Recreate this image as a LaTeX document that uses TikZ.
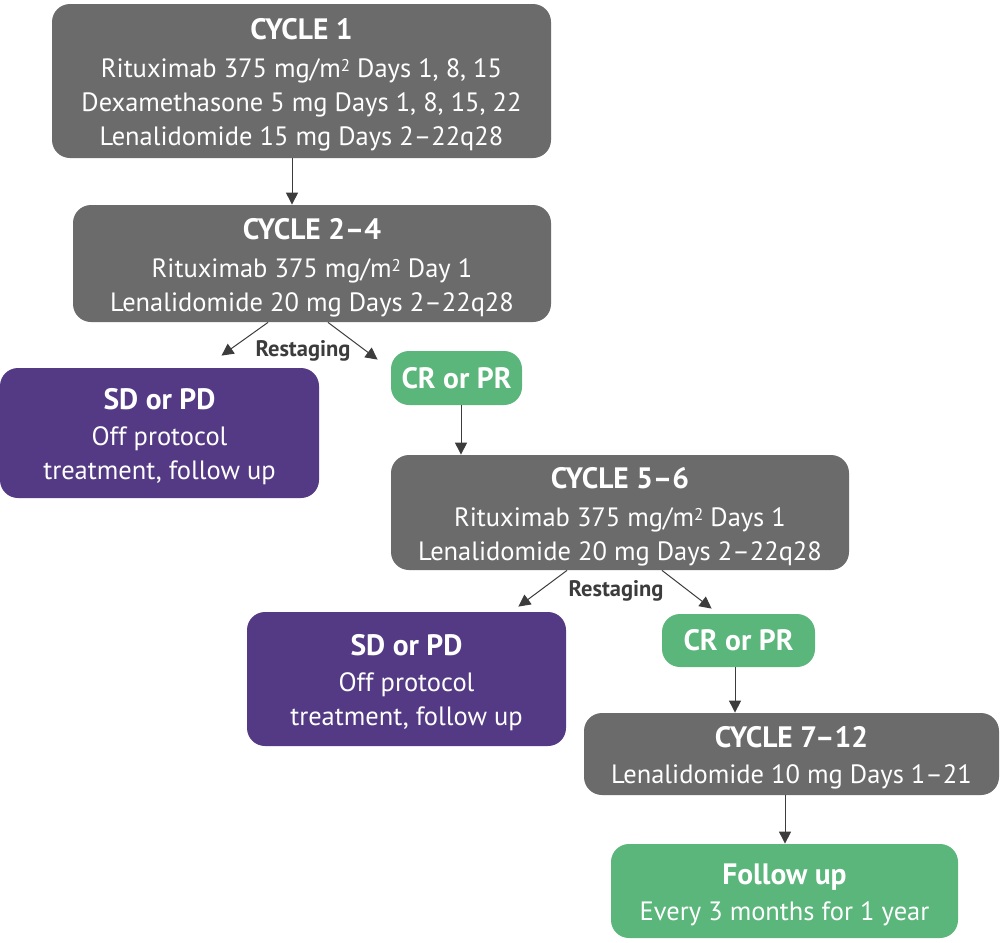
\documentclass[tikz,border=0pt]{standalone}
\usepackage{fontspec}
\setmainfont{PT Sans}
\usepackage{tikz}
\usetikzlibrary{arrows.meta}
\usetikzlibrary{positioning}
\definecolor{cyclegray}{RGB}{107,107,107}
\definecolor{stoppurple}{RGB}{84,58,132}
\definecolor{okgreen}{RGB}{90,182,122}
\definecolor{linegray}{RGB}{60,60,60}
\tikzset{box/.style={rounded corners=9pt, text=white, align=center,
    inner sep=0pt, font=\fontsize{13.25}{17}\selectfont}}
\tikzset{cyclebox/.style={box, fill=cyclegray}}
\tikzset{stopbox/.style={box, fill=stoppurple}}
\tikzset{okbox/.style={box, fill=okgreen}}
\tikzset{arrow/.style={-{Triangle[length=6pt,width=6pt]}, draw=linegray,
    line width=0.5pt}}
\tikzset{restage/.style={text=linegray, font=\fontsize{11.25}{13}\selectfont\bfseries}}
\newcommand{\msq}{mg/m\raisebox{0.45ex}{\fontsize{8.5}{9}\selectfont 2}}
\newcommand{\ttl}[1]{{\fontsize{14.75}{17}\selectfont\bfseries #1}}
% title with a strut on top, to push the text block down a bit
\newcommand{\hdr}[1]{\rule{0pt}{14.5pt}\ttl{#1}}

\begin{document}
\begin{tikzpicture}[x=0.5pt, y=-0.5pt]
        \useasboundingbox (0,0) rectangle (1000,942);

        \node[cyclebox, minimum width=249.5pt, minimum height=77pt] (c1) at (301.5,81)
            {\hdr{CYCLE 1}\\[2pt]Rituximab 375 \msq{} Days 1, 8, 15\\
             Dexamethasone 5 mg Days 1, 8, 15, 22\\Lenalidomide 15 mg Days 2--22q28};
        \node[cyclebox, minimum width=239pt, minimum height=58.5pt] (c24) at (312,263.5)
            {\hdr{CYCLE 2--4}\\[2pt]Rituximab 375 \msq{} Day 1\\
             Lenalidomide 20 mg Days 2--22q28};
        \node[stopbox, minimum width=159.5pt, minimum height=65pt] (sd1) at (159.5,433)
            {\hdr{SD or PD}\\[1pt]Off protocol\\treatment, follow up};
        \node[okbox, minimum width=65.5pt, minimum height=27pt] (cr1) at (456.5,378)
            {\ttl{CR or PR}};
        \node[cyclebox, minimum width=229pt, minimum height=57.5pt] (c56) at (620,512.5)
            {\hdr{CYCLE 5--6}\\[2pt]Rituximab 375 \msq{} Days 1\\
             Lenalidomide 20 mg Days 2--22q28};
        \node[stopbox, minimum width=159.5pt, minimum height=67pt] (sd2) at (406.5,679)
            {\hdr{SD or PD}\\[1pt]Off protocol\\treatment, follow up};
        \node[okbox, minimum width=76.5pt, minimum height=26.5pt] (cr2) at (738.5,640.5)
            {\ttl{CR or PR}};
        \node[cyclebox, minimum width=207.5pt, minimum height=41pt] (c712) at (791.5,754)
            {\hdr{CYCLE 7--12}\\[1pt]Lenalidomide 10 mg Days 1--21};
        \node[okbox, minimum width=173.5pt, minimum height=47pt] (fu) at (784.5,891)
            {\hdr{Follow up}\\[1pt]Every 3 months for 1 year};

        \node[restage] (rs1) at (303,351) {Restaging};
        \node[restage] (rs2) at (616,591) {Restaging};

        \draw[arrow] ([xshift=-4.75pt]c1.south) -- ([xshift=-10pt]c24.north);
        \draw[arrow] ([xshift=-22pt]c24.south) -- ([xshift=31pt,yshift=6pt]sd1.north);
        \draw[arrow] ([xshift=8pt]c24.south) -- ([xshift=-6.5pt,yshift=-4.5pt]cr1.north west);
        \draw[arrow] ([xshift=2.25pt]cr1.south) -- ([xshift=-79.5pt]c56.north);
        \draw[arrow] ([xshift=-26.5pt]c56.south) -- ([xshift=-24pt,yshift=2.5pt]sd2.north east);
        \draw[arrow] ([xshift=21pt]c56.south) -- ([xshift=25pt,yshift=2.5pt]cr2.north west);
        \draw[arrow] ([xshift=-1.75pt]cr2.south) -- ([xshift=-28.25pt]c712.north);
        \draw[arrow] ([xshift=-3.25pt]c712.south) -- ([xshift=0.25pt]fu.north);
\end{tikzpicture}
\end{document}
